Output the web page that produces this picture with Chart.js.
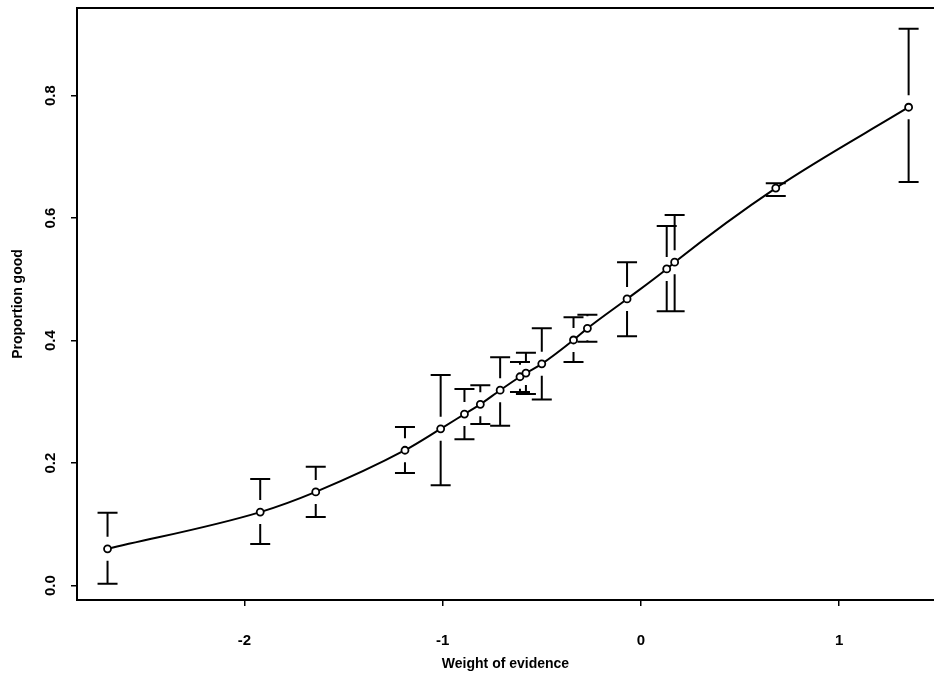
<!DOCTYPE html>
<html>
<head>
<meta charset="utf-8">
<script src="https://cdn.jsdelivr.net/npm/chart.js@4.4.0/dist/chart.umd.min.js"></script>
<style>
  html, body { margin: 0; padding: 0; background: #fff; }
  #wrap { width: 934px; height: 682px; }
</style>
</head>
<body>
<div id="wrap"><canvas id="chart"></canvas></div>
<script>
// weight of evidence (x) and observed proportion good (y), with interval ends
const woe = [-2.69, -1.92, -1.64, -1.19, -1.01, -0.89, -0.81, -0.71, -0.61, -0.58, -0.50, -0.34, -0.27, -0.07, 0.13, 0.17, 0.68, 1.35];
const propGood = [0.060, 0.120, 0.153, 0.221, 0.256, 0.280, 0.296, 0.319, 0.341, 0.347, 0.362, 0.401, 0.420, 0.468, 0.517, 0.528, 0.649, 0.781];
const upper = [0.119, 0.174, 0.194, 0.259, 0.344, 0.321, 0.327, 0.373, 0.365, 0.380, 0.420, 0.438, 0.442, 0.528, 0.587, 0.605, 0.657, 0.909];
const lower = [0.003, 0.068, 0.112, 0.184, 0.164, 0.239, 0.264, 0.261, 0.316, 0.313, 0.304, 0.365, 0.398, 0.407, 0.448, 0.448, 0.636, 0.659];

const xTicks = [-2, -1, 0, 1];
const yTicks = [0.0, 0.2, 0.4, 0.6, 0.8];

const points = woe.map((x, i) => ({ x: x, y: propGood[i] }));

// draws the interval bars (gap round the point) and the top frame line
const errorBars = {
    id: 'errorBars',
    afterDatasetsDraw(chart) {
        const ctx = chart.ctx;
        const xs = chart.scales.x;
        const ys = chart.scales.y;
        const gap = 12;
        const cap = 10;
        ctx.save();
        ctx.strokeStyle = '#000';
        ctx.lineWidth = 2;
        ctx.beginPath();
        for (let i = 0; i < woe.length; i++) {
            const px = xs.getPixelForValue(woe[i]);
            const py = ys.getPixelForValue(propGood[i]);
            const pt = ys.getPixelForValue(upper[i]);
            const pb = ys.getPixelForValue(lower[i]);
            if (py - pt > gap) {
                ctx.moveTo(px, pt);
                ctx.lineTo(px, py - gap);
            }
            if (pb - py > gap) {
                ctx.moveTo(px, py + gap);
                ctx.lineTo(px, pb);
            }
            ctx.moveTo(px - cap, pt);
            ctx.lineTo(px + cap, pt);
            ctx.moveTo(px - cap, pb);
            ctx.lineTo(px + cap, pb);
        }
        ctx.stroke();

        const area = chart.chartArea;
        ctx.beginPath();
        ctx.moveTo(area.left, area.top);
        ctx.lineTo(area.right, area.top);
        ctx.stroke();
        ctx.restore();
    }
};

const tickFont = { family: '"Liberation Sans", Arial, sans-serif', size: 15, weight: 'bold' };
const titleFont = { family: '"Liberation Sans", Arial, sans-serif', size: 14, weight: 'bold' };

new Chart(document.getElementById('chart'), {
    type: 'scatter',
    data: {
        datasets: [{
            data: points,
            showLine: true,
            borderColor: '#000',
            borderWidth: 2,
            cubicInterpolationMode: 'monotone',
            pointRadius: 3.5,
            pointBorderWidth: 1.8,
            pointBackgroundColor: '#fff',
            pointBorderColor: '#000'
        }]
    },
    options: {
        responsive: true,
        maintainAspectRatio: false,
        animation: false,
        layout: { autoPadding: false, padding: { top: 8, right: 0, left: 0, bottom: 0 } },
        plugins: {
            legend: { display: false },
            tooltip: { enabled: false }
        },
        scales: {
            x: {
                type: 'linear',
                min: -2.844,
                max: 1.478,
                afterBuildTicks: (scale) => { scale.ticks = xTicks.map(v => ({ value: v })); },
                afterFit: (scale) => { scale.height = 82; scale.paddingLeft = 0; scale.paddingRight = 0; },
                border: { display: true, color: '#000', width: 2 },
                grid: { display: true, drawOnChartArea: false, drawTicks: true, tickLength: 6, color: '#000', lineWidth: 1.5 },
                ticks: { color: '#000', font: tickFont, padding: 26, callback: v => String(v) },
                title: { display: true, text: 'Weight of evidence', color: '#000', font: titleFont, padding: { top: 2, bottom: 9 } }
            },
            y: {
                type: 'linear',
                min: -0.0235,
                max: 0.943,
                afterBuildTicks: (scale) => { scale.ticks = yTicks.map(v => ({ value: v })); },
                afterFit: (scale) => { scale.width = 77; scale.paddingTop = 0; scale.paddingBottom = 0; },
                border: { display: true, color: '#000', width: 2 },
                grid: { display: true, drawOnChartArea: false, drawTicks: true, tickLength: 6, color: '#000', lineWidth: 1.5 },
                ticks: { color: '#000', font: tickFont, padding: 10, crossAlign: 'center', minRotation: 90, maxRotation: 90, callback: v => v.toFixed(1) },
                title: { display: true, text: 'Proportion good', color: '#000', font: titleFont, padding: { top: 10, bottom: 6 } }
            }
        }
    },
    plugins: [errorBars]
});
</script>
</body>
</html>
